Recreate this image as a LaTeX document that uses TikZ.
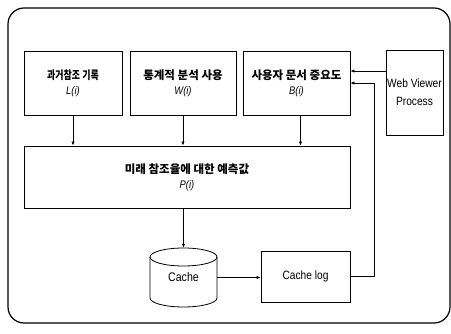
\documentclass[tikz,border=0pt]{standalone}
\usepackage{fontspec}
\setmainfont{Liberation Sans}[FakeStretch=0.85]
\newfontfamily\kr{Noto Sans CJK KR}
\usetikzlibrary{arrows.meta,calc}
\newcommand{\krtext}[1]{{\kr\bfseries\fontsize{11.5}{15}\selectfont #1}}
\newcommand{\ittext}[1]{{\fontsize{11}{15}\selectfont\itshape #1}}
\begin{document}
\begin{tikzpicture}[x=1pt,y=-1pt,
  box/.style={draw,line width=0.8pt,inner sep=0pt,align=center,font=\fontsize{12}{15}\selectfont},
  conn/.style={line width=0.7pt,-{Latex[length=4pt,width=3.2pt]}}]
\useasboundingbox (0,0) rectangle (451,334);
\draw[line width=1.2pt,rounded corners=16pt] (8,8) rectangle (450,323);
\node[box,minimum width=98,minimum height=64] (L) at (73,83)
  {\scalebox{0.78}[1]{\krtext{과거참조 기록}}\\ \ittext{L(i)}};
\node[box,minimum width=106,minimum height=64] (W) at (183,83)
  {\krtext{통계적 분석 사용}\\ \ittext{W(i)}};
\node[box,minimum width=107,minimum height=64] (B) at (296.5,83)
  {\krtext{사용자 문서 중요도}\\ \ittext{B(i)}};
\node[box,minimum width=57,minimum height=85,font=\fontsize{12}{18}\selectfont] (web) at (414.5,92.5)
  {Web Viewer\\Process};
\node[box,minimum width=326,minimum height=62] (P) at (187,177)
  {\krtext{미래 참조율에 대한 예측값}\\ \ittext{P(i)}};
\node[box,minimum width=89,minimum height=51] (log) at (305.5,276.5) {Cache log};
\node[inner sep=0pt,minimum width=67,minimum height=59,font=\fontsize{12.5}{15}\selectfont] (cache) at (183.5,277.5) {\raisebox{-6pt}{Cache}};
% cylinder outline
\draw[line width=0.8pt] (183.5,257) ellipse [x radius=33.5, y radius=9];
\draw[line width=0.8pt] (150,257) -- (150,298) arc[start angle=180, end angle=0, x radius=33.5, y radius=9] -- (217,257);
% connectors
\draw[conn] (L.south) -- (L.south |- P.north);
\draw[conn] (W.south) -- (W.south |- P.north);
\draw[conn] ([xshift=4pt]B.south) -- ([xshift=4pt]B.south |- P.north);
\draw[conn] (P.south -| cache.north) -- (cache.north);
\draw[conn] (cache.east) -- (cache.east -| log.west);
\coordinate (wa) at ($(web.north west)!0.25!(web.south west)$);
\draw[conn] (wa) -- (wa -| B.east);
\coordinate (r) at (374,83);
\draw[conn] (log.east) -| (r) -- (r -| B.east);
\end{tikzpicture}
\end{document}
